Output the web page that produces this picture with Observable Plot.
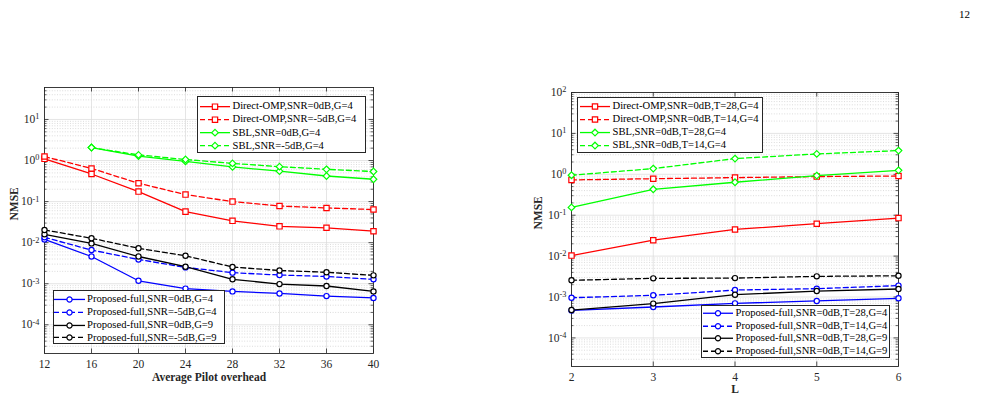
<!DOCTYPE html>
<html><head><meta charset="utf-8">
<script src="https://cdn.jsdelivr.net/npm/d3@7"></script>
<script src="https://cdn.jsdelivr.net/npm/@observablehq/plot@0.6"></script>
<style>
html,body{margin:0;padding:0;background:#fff;}
#root{position:relative;width:984px;height:402px;overflow:hidden;font-family:"Liberation Serif","Times New Roman",serif;color:#000;}
#root svg.chart{position:absolute;top:0;}
.legend{position:absolute;box-sizing:border-box;border:1px solid #262626;background:#fff;font-size:10.6px;z-index:5;}
.legend .row{display:flex;align-items:center;white-space:nowrap;}
.legend .row span{line-height:1;}
.pagenum{position:absolute;left:959px;top:8px;font-size:11px;}
</style>
</head><body>
<div id="root"><div class="pagenum">12</div></div>
<script>
// ---------- data: left panel (x = average pilot overhead) ----------
const pilotOverhead = [12, 16, 20, 24, 28, 32, 36, 40];
const sblPilotOverhead = [16, 20, 24, 28, 32, 36, 40];
const ompSnr0 = [1.1, 0.47, 0.175, 0.057, 0.034, 0.025, 0.023, 0.019];
const ompSnrM5 = [1.25, 0.64, 0.28, 0.148, 0.1, 0.078, 0.07, 0.064];
const sblSnr0 = [2.07, 1.28, 0.95, 0.70, 0.55, 0.42, 0.35];
const sblSnrM5 = [2.07, 1.37, 1.06, 0.85, 0.71, 0.61, 0.54];
const propG4Snr0 = [0.012, 0.0046, 0.00118, 0.00076, 0.00065, 0.00058, 0.0005, 0.00045];
const propG4SnrM5 = [0.0135, 0.0066, 0.0039, 0.0025, 0.00186, 0.00163, 0.0015, 0.00128];
const propG9Snr0 = [0.016, 0.0096, 0.0046, 0.0026, 0.00128, 0.00098, 0.00088, 0.00065];
const propG9SnrM5 = [0.0204, 0.0128, 0.0073, 0.0048, 0.00255, 0.0021, 0.0019, 0.0016];
const leftXTicks = [12, 16, 20, 24, 28, 32, 36, 40];
const leftYTicks = [1e-4, 1e-3, 1e-2, 1e-1, 1, 10];
const leftNames = [
  "Direct-OMP,SNR=0dB,G=4", "Direct-OMP,SNR=-5dB,G=4", "SBL,SNR=0dB,G=4", "SBL,SNR=-5dB,G=4",
  "Proposed-full,SNR=0dB,G=4", "Proposed-full,SNR=-5dB,G=4", "Proposed-full,SNR=0dB,G=9", "Proposed-full,SNR=-5dB,G=9"
];

// ---------- data: right panel (x = L) ----------
const pathsL = [2, 3, 4, 5, 6];
const ompT28 = [0.0103, 0.0245, 0.0448, 0.062, 0.085];
const ompT14 = [0.73, 0.78, 0.83, 0.88, 0.91];
const sblT28 = [0.155, 0.43, 0.64, 0.93, 1.25];
const sblT14 = [0.95, 1.38, 2.42, 3.15, 3.8];
const propG4T28 = [0.00047, 0.00057, 0.0007, 0.0008, 0.00093];
const propG4T14 = [0.00096, 0.0011, 0.00148, 0.0016, 0.0019];
const propG9T28 = [0.00048, 0.00069, 0.00114, 0.0014, 0.00157];
const propG9T14 = [0.00256, 0.00286, 0.0029, 0.0032, 0.0033];
const rightXTicks = [2, 3, 4, 5, 6];
const rightYTicks = [1e-4, 1e-3, 1e-2, 1e-1, 1, 10, 100];
const rightNames = [
  "Direct-OMP,SNR=0dB,T=28,G=4", "Direct-OMP,SNR=0dB,T=14,G=4", "SBL,SNR=0dB,T=28,G=4", "SBL,SNR=0dB,T=14,G=4",
  "Proposed-full,SNR=0dB,T=28,G=4", "Proposed-full,SNR=0dB,T=14,G=4", "Proposed-full,SNR=0dB,T=28,G=9", "Proposed-full,SNR=0dB,T=14,G=9"
];

// ---------- styles ----------
const RED = "#ff0000", GREEN = "#00ff00", BLUE = "#0000ff", BLACK = "#000000";
const DASH = "5,3";
const styleOf = [
  {color: RED, dash: null, symbol: "square"},
  {color: RED, dash: DASH, symbol: "square"},
  {color: GREEN, dash: null, symbol: "diamond2"},
  {color: GREEN, dash: DASH, symbol: "diamond2"},
  {color: BLUE, dash: null, symbol: "circle"},
  {color: BLUE, dash: DASH, symbol: "circle"},
  {color: BLACK, dash: null, symbol: "circle"},
  {color: BLACK, dash: DASH, symbol: "circle"}
];

const leftSeries = [
  [pilotOverhead, ompSnr0], [pilotOverhead, ompSnrM5], [sblPilotOverhead, sblSnr0], [sblPilotOverhead, sblSnrM5],
  [pilotOverhead, propG4Snr0], [pilotOverhead, propG4SnrM5], [pilotOverhead, propG9Snr0], [pilotOverhead, propG9SnrM5]
];
const rightSeries = [
  [pathsL, ompT28], [pathsL, ompT14], [pathsL, sblT28], [pathsL, sblT14],
  [pathsL, propG4T28], [pathsL, propG4T14], [pathsL, propG9T28], [pathsL, propG9T14]
];

function minorTicks(lo, hi) {
  const out = [];
  for (let k = Math.floor(Math.log10(lo)); k <= Math.ceil(Math.log10(hi)); k++) {
    for (let m = 2; m <= 9; m++) {
      const v = m * Math.pow(10, k);
      if (v > lo && v < hi) out.push(v);
    }
  }
  return out;
}

function makeChart(cfg) {
  const {width, height, mL, mR, mT, mB, xDomain, yDomain, xTicks, yTicks, series, xLabel, yLabelDx, xLabelDy} = cfg;
  const pw = width - mL - mR, ph = height - mT - mB;
  const [x0, x1] = xDomain, [y0, y1] = yDomain;
  const decades = Math.log10(y1 / y0);
  const xU = (px) => px * (x1 - x0) / pw;            // pixels -> x data units
  const yF = (px) => Math.pow(10, px * decades / ph); // pixels -> y multiplicative factor
  const minors = minorTicks(y0, y1);
  const majorsIn = yTicks.filter(v => v >= y0 && v <= y1);
  const MAJ = 4.5, MIN = 2.5, TC = "#262626";
  const marks = [
    // grid
    Plot.ruleY(minors, {y: d => d, stroke: "#c4c4c4", strokeWidth: 0.6, strokeDasharray: "1,1.6"}),
    Plot.ruleY(majorsIn, {y: d => d, stroke: "#dadada", strokeWidth: 0.7}),
    Plot.ruleX(xTicks, {x: d => d, stroke: "#dadada", strokeWidth: 0.7}),
    // ticks (inside, both sides)
    Plot.ruleY(majorsIn, {y: d => d, x1: x0, x2: x0 + xU(MAJ), stroke: TC, strokeWidth: 0.8}),
    Plot.ruleY(majorsIn, {y: d => d, x1: x1, x2: x1 - xU(MAJ), stroke: TC, strokeWidth: 0.8}),
    Plot.ruleY(minors, {y: d => d, x1: x0, x2: x0 + xU(MIN), stroke: TC, strokeWidth: 0.7}),
    Plot.ruleY(minors, {y: d => d, x1: x1, x2: x1 - xU(MIN), stroke: TC, strokeWidth: 0.7}),
    Plot.ruleX(xTicks, {x: d => d, y1: y0, y2: y0 * yF(MAJ), stroke: TC, strokeWidth: 0.8}),
    Plot.ruleX(xTicks, {x: d => d, y1: y1, y2: y1 / yF(MAJ), stroke: TC, strokeWidth: 0.8}),
    Plot.frame({stroke: TC, strokeWidth: 0.9}),
    Plot.axisX({ticks: xTicks, tickSize: 0, tickPadding: 6, tickFormat: d => String(d), label: null, fontSize: 11.5}),
    Plot.axisY({ticks: yTicks, tickSize: 0, tickPadding: 5, tickFormat: d => "10^" + Math.round(Math.log10(d)), label: null, fontSize: 11.5}),
    Plot.text([xLabel], {frameAnchor: "bottom", dy: xLabelDy, fontWeight: "bold", fontSize: 11.5}),
    Plot.text(["NMSE"], {frameAnchor: "left", dx: yLabelDx, rotate: -90, fontWeight: "bold", fontSize: 11.5})
  ];
  series.forEach(([xs, ys], i) => {
    const st = styleOf[i];
    const data = xs.map((x, j) => ({x, y: ys[j]}));
    marks.push(Plot.line(data, {x: "x", y: "y", stroke: st.color, strokeWidth: 1.3, strokeDasharray: st.dash || undefined}));
  });
  series.forEach(([xs, ys], i) => {
    const st = styleOf[i];
    const data = xs.map((x, j) => ({x, y: ys[j]}));
    marks.push(Plot.dot(data, {x: "x", y: "y", symbol: st.symbol, r: st.symbol === "circle" ? 2.6 : 3, stroke: st.color, fill: "white", strokeWidth: 1.2}));
  });
  const svg = Plot.plot({
    width, height, marginLeft: mL, marginRight: mR, marginTop: mT, marginBottom: mB,
    x: {domain: xDomain},
    y: {type: "log", domain: yDomain},
    style: {fontFamily: "'Liberation Serif','Times New Roman',serif", fontSize: "11.5px", background: "transparent", color: "#262626"},
    marks
  });
  svg.classList.add("chart");
  // superscript exponents for y tick labels
  d3.select(svg).selectAll('g[aria-label="y-axis tick label"] text').each(function () {
    const t = this.textContent;
    const m = /^10\^(.+)$/.exec(t);
    if (!m) return;
    const s = d3.select(this);
    s.text(null);
    s.append("tspan").text("10");
    s.append("tspan").attr("dy", "-0.45em").attr("font-size", "0.72em").text(m[1]);
  });
  return svg;
}

const root = document.getElementById("root");

const left = makeChart({
  width: 490, height: 402, mL: 44, mR: 117, mT: 87, mB: 49,
  xDomain: [12, 40], yDomain: [2e-5, 60], xTicks: leftXTicks, yTicks: leftYTicks,
  series: leftSeries, xLabel: "Average Pilot overhead", yLabelDx: -30, xLabelDy: 27
});
left.style.left = "0px";
root.appendChild(left);

const right = makeChart({
  width: 494, height: 402, mL: 81, mR: 86, mT: 92, mB: 36,
  xDomain: [2, 6], yDomain: [2e-5, 100], xTicks: rightXTicks, yTicks: rightYTicks,
  series: rightSeries, xLabel: "L", yLabelDx: -33, xLabelDy: 26
});
right.style.left = "490px";
root.appendChild(right);

// ---------- legends ----------
function symbolPath(sym) {
  if (sym === "square") return d3.symbol(d3.symbolSquare, Math.PI * 9)();
  if (sym === "diamond2") return d3.symbol(d3.symbolDiamond2, Math.PI * 9)();
  return d3.symbol(d3.symbolCircle, Math.PI * 2.6 * 2.6)();
}
function makeLegend(names, idx, box) {
  const div = document.createElement("div");
  div.className = "legend";
  Object.assign(div.style, {left: box.left + "px", top: box.top + "px", width: box.width + "px", height: box.height + "px", paddingTop: box.padTop + "px"});
  idx.forEach(i => {
    const st = styleOf[i];
    const row = document.createElement("div");
    row.className = "row";
    row.style.height = box.rowH + "px";
    const w = box.lineW, h = box.rowH;
    const svg = d3.create("svg").attr("width", w).attr("height", h).style("margin-left", box.lineX + "px").style("flex", "none");
    svg.append("line").attr("x1", 0).attr("x2", w).attr("y1", h / 2).attr("y2", h / 2)
      .attr("stroke", st.color).attr("stroke-width", 1.3).attr("stroke-dasharray", st.dash);
    svg.append("path").attr("d", symbolPath(st.symbol)).attr("transform", `translate(${w / 2},${h / 2})`)
      .attr("stroke", st.color).attr("fill", "white").attr("stroke-width", 1.2);
    row.appendChild(svg.node());
    const span = document.createElement("span");
    span.textContent = names[i];
    span.style.marginLeft = box.gap + "px";
    row.appendChild(span);
    div.appendChild(row);
  });
  root.appendChild(div);
}
makeLegend(leftNames, [0, 1, 2, 3], {left: 197, top: 96, width: 169, height: 57, padTop: 2.6, rowH: 13.3, lineX: 2, lineW: 30, gap: 2.5});
makeLegend(leftNames, [4, 5, 6, 7], {left: 53, top: 290, width: 172, height: 54, padTop: 1.8, rowH: 12.9, lineX: 0, lineW: 31, gap: 2});
makeLegend(rightNames, [0, 1, 2, 3], {left: 577, top: 97, width: 186, height: 56, padTop: 1.8, rowH: 13.1, lineX: 2, lineW: 30, gap: 2.5});
makeLegend(rightNames, [4, 5, 6, 7], {left: 701, top: 305, width: 189, height: 53, padTop: 1.3, rowH: 12.5, lineX: 1, lineW: 30, gap: 2.5});
</script>
</body></html>
